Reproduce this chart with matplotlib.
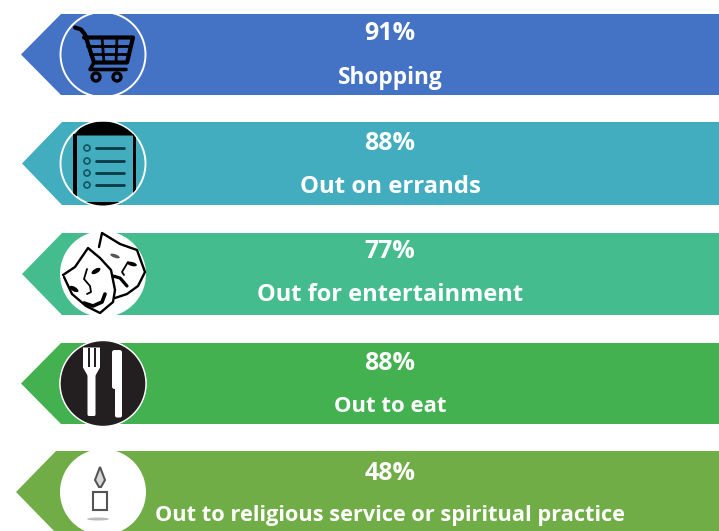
import numpy as np
import matplotlib.pyplot as plt
from matplotlib.patches import Polygon, Circle, Rectangle, Ellipse, FancyBboxPatch

plt.rcParams['font.family'] = ['Open Sans', 'DejaVu Sans']

percents = ['91%', '88%', '77%', '88%', '48%']
labels = ['Shopping', 'Out on errands', 'Out for entertainment', 'Out to eat',
          'Out to religious service or spiritual practice']
colors = ['#4472C4', '#42ADBE', '#44BC8E', '#43B14F', '#70AD47']
tops = [14, 122, 233, 343, 451]
bottoms = [95, 205, 315, 424, 533]
tips = [21, 22, 22, 21, 16]
percent_y = [33, 143, 252, 363, 473]
label_y = [78, 187, 295, 406, 515]
label_size = [16.3, 17.2, 17, 15.9, 15.65]

W, H = 719, 531
CX = 103
R = 43

fig = plt.figure(figsize=(W / 100, H / 100), dpi=100)
ax = fig.add_axes([0, 0, 1, 1])
ax.set_xlim(0, W)
ax.set_ylim(H, 0)
ax.axis('off')


def line(xs, ys, lw=2, c='black', z=5):
  ax.plot(xs, ys, color=c, lw=lw, zorder=z, solid_capstyle='round')


def cart(cy, col):
  # handle, basket, grid
  line([75, 81, 85, 94, 127, 133, 84],
       [cy - 27, cy - 25, cy - 20, cy + 8, cy + 8, cy - 17, cy - 17], lw=3)
  for y, x0, x1 in [(cy - 9, 87, 131), (cy - 1, 90, 129)]:
    line([x0, x1], [y, y], lw=2)
  for x0, x1 in [(102, 104), (117, 116)]:
    line([x0, x1], [cy - 17, cy + 8], lw=2)
  line([94, 90, 126], [cy + 8, cy + 15, cy + 15], lw=2.6)
  for x in [96, 117]:
    ax.add_patch(Circle((x, cy + 22.5), 4, fc=col, ec='black', lw=2.4, zorder=6))


def clipboard(cy, col):
  clip = Circle((CX, cy), R - 1, transform=ax.transData)
  for part in [
      Polygon([[85, cy - 42], [121, cy - 42], [136, cy - 28], [74, cy - 28]], fc='black', ec='none', zorder=5),
      Rectangle((73, cy - 30), 3.5, 62, fc='black', ec='none', zorder=5),
      Rectangle((132.5, cy - 30), 3.5, 62, fc='black', ec='none', zorder=5),
      Rectangle((70, cy + 38), 66, 8, fc='black', ec='none', zorder=5)]:
    ax.add_patch(part)
    part.set_clip_path(clip)
  for y in [148, 161, 173, 185]:
    ax.add_patch(Circle((87, y), 3, fc=col, ec='#155a66', lw=1.3, zorder=6))
    line([96, 124], [y, y], lw=2, c='#0c3a44')


def masks(cy):
  ax.add_patch(Circle((CX, cy), R, fc='white', ec='none', zorder=4))
  # comedy mask
  line([63, 75, 88, 100, 111, 115, 113, 100, 86, 72, 64],
       [cy + 1, cy - 7, cy - 26, cy - 16, cy - 4, cy + 16, cy + 28, cy + 39, cy + 32, cy + 20, cy + 3], lw=1.7)
  ax.add_patch(Ellipse((96, cy - 3), 10, 4.5, angle=-30, fc='black', zorder=6))
  ax.add_patch(Ellipse((74, cy + 15), 10, 4.5, angle=30, fc='black', zorder=6))
  line([87, 84, 90, 91, 87], [cy - 5, cy + 5, cy + 12, cy + 18, cy + 20], lw=1.3)
  line([84, 93, 102, 105], [cy + 29, cy + 32, cy + 28, cy + 20], lw=2.6)
  # tragedy mask
  line([99, 102, 120, 137, 145, 138, 127, 115],
       [cy - 27, cy - 41, cy - 30, cy - 24, cy - 2, cy + 12, cy + 20, cy + 24], lw=1.7)
  ax.add_patch(Ellipse((115, cy - 18), 10, 3.5, angle=20, fc='#555555', zorder=6))
  ax.add_patch(Ellipse((132, cy - 10), 10, 4, angle=15, fc='black', zorder=6))
  line([128, 122, 124], [cy - 12, cy - 2, cy + 1], lw=1.3)
  line([113, 120, 127], [cy + 2, cy + 4, cy + 12], lw=2.3)


def cutlery(cy):
  ax.add_patch(Circle((CX, cy), R, fc='#231F20', ec='white', lw=1, zorder=4))
  # fork
  ax.add_patch(Polygon([[83, cy - 36], [100, cy - 36], [100, cy - 16], [95.5, cy - 8], [87.5, cy - 8], [83, cy - 16]],
                       fc='white', ec='none', zorder=5))
  ax.add_patch(FancyBboxPatch((89, cy - 9), 5, 40, boxstyle='round,pad=1.5', fc='white', ec='none', zorder=5))
  for x in [87.5, 93.5]:
    ax.add_patch(Rectangle((x, cy - 36), 2.2, 19, fc='#231F20', ec='none', zorder=6))
  # knife
  ax.add_patch(FancyBboxPatch((114.5, cy - 31), 5, 34, boxstyle='round,pad=2.5', fc='white', ec='none', zorder=5))
  ax.add_patch(FancyBboxPatch((117, cy + 3), 3, 29, boxstyle='round,pad=2', fc='white', ec='none', zorder=5))


def candle(cy):
  ax.add_patch(Circle((CX, cy), R, fc='white', ec='none', zorder=4))
  ax.add_patch(Rectangle((93, 492), 14, 18, fc='white', ec='#555555', lw=1.5, zorder=5))
  ax.add_patch(Polygon([[100, 467], [105, 480], [101, 487], [99, 487], [95, 480]],
                       fc='#d8d8d8', ec='#555555', lw=1.5, zorder=5))
  ax.add_patch(Ellipse((98, 519), 22, 3, fc='#bbbbbb', ec='none', zorder=5))


for i in range(len(labels)):
  t, b = tops[i], bottoms[i]
  cy = (t + b) / 2
  tip = tips[i]
  ax.add_patch(Polygon([[tip, cy], [tip + 40, t], [W, t], [W, b], [tip + 40, b]],
                       fc=colors[i], ec='none', zorder=1))
  if i in (0, 1, 3):
    ax.add_patch(Circle((CX, cy), R - 0.5, fc='none', ec='white', lw=1.4, zorder=3))
  ax.text(390, percent_y[i], percents[i], color='white', fontsize=18, fontweight='bold',
          ha='center', va='center', zorder=7)
  ax.text(390, label_y[i], labels[i], color='white', fontsize=label_size[i], fontweight='bold',
          ha='center', va='center', zorder=7)

cart((tops[0] + bottoms[0]) / 2, colors[0])
clipboard((tops[1] + bottoms[1]) / 2, colors[1])
masks((tops[2] + bottoms[2]) / 2)
cutlery((tops[3] + bottoms[3]) / 2)
candle((tops[4] + bottoms[4]) / 2)

fig.savefig('out.png', dpi=100)
